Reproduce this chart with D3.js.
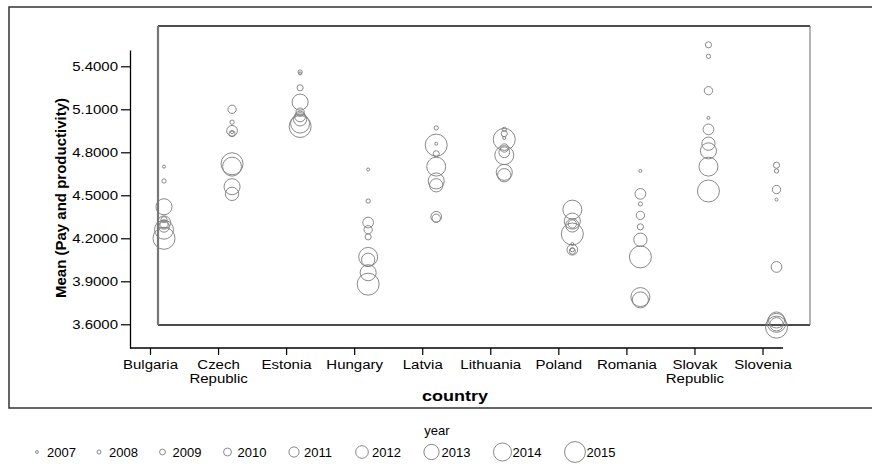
<!DOCTYPE html>
<html><head><meta charset="utf-8">
<script src="https://cdn.jsdelivr.net/npm/d3@7"></script>
<style>
body{margin:0;background:#fff}
text{font-family:"Liberation Sans",Arial,sans-serif;fill:#000}
</style>
</head><body>
<svg id="c" width="872" height="464"></svg>
<script>
// ---- data ----
const countries = ["Bulgaria","Czech Republic","Estonia","Hungary","Latvia","Lithuania","Poland","Romania","Slovak Republic","Slovenia"];
const countryLabels = [["Bulgaria"],["Czech","Republic"],["Estonia"],["Hungary"],["Latvia"],["Lithuania"],["Poland"],["Romania"],["Slovak","Republic"],["Slovenia"]];
const years = [2007,2008,2009,2010,2011,2012,2013,2014,2015];
// mean (pay and productivity) per year 2007..2015
const bulgaria  = [4.70,4.60,4.33,4.30,4.28,4.31,4.42,4.26,4.20];
const czech     = [4.94,5.01,4.93,5.10,4.95,4.51,4.56,4.70,4.72];
const estonia   = [5.35,5.36,5.25,5.08,5.05,5.03,5.15,5.00,4.98];
const hungary   = [4.68,4.46,4.21,4.26,4.31,4.05,3.96,4.07,3.88];
const latvia    = [4.86,4.97,4.79,4.34,4.35,4.57,4.60,4.70,4.85];
const lithuania = [4.90,4.96,4.93,4.83,4.80,4.64,4.66,4.78,4.89];
const poland    = [4.16,4.12,4.11,4.30,4.12,4.29,4.32,4.40,4.23];
const romania   = [4.67,4.44,4.28,4.36,4.51,4.19,3.77,3.79,4.07];
const slovak    = [5.04,5.47,5.55,5.23,4.96,4.86,4.81,4.70,4.53];
const slovenia  = [4.47,4.67,4.71,4.54,4.00,3.60,3.63,3.61,3.58];
const yTicks = [3.6,3.9,4.2,4.5,4.8,5.1,5.4];
const yTitle = "Mean (Pay and productivity)";
const xTitle = "country";
const legendTitle = "year";

const seriesByCountry = [bulgaria,czech,estonia,hungary,latvia,lithuania,poland,romania,slovak,slovenia];
const points = [];
countries.forEach((c,i)=>years.forEach((yr,j)=>points.push({country:c,year:yr,value:seriesByCountry[i][j]})));

// ---- layout ----
const svg = d3.select("#c");
svg.append("rect").attr("width",872).attr("height",464).attr("fill","#fff");

const y = d3.scaleLinear().domain([3.4346,5.5137]).range([348,50]);
const x = d3.scalePoint().domain(countries).range([150,762.5]);
const bubbleShift = 14;
const r = d3.scalePow().exponent(1.3).domain([0,8]).range([1.5,11]);
const axisX = 130;
const strokeGray = "#7c7c7c";

// outer frame (right side runs off the image)
svg.append("rect").attr("x",9).attr("y",7).attr("width",900).attr("height",401)
  .attr("fill","none").attr("stroke","#333").attr("stroke-width",1.5);

// inner data frame
const box = {l:158,t:26,r:810,b:325};
svg.append("line").attr("x1",box.l).attr("x2",box.r).attr("y1",box.t).attr("y2",box.t).attr("stroke","#111").attr("stroke-width",1.4);
svg.append("line").attr("x1",box.l).attr("x2",box.r).attr("y1",box.b).attr("y2",box.b).attr("stroke","#111").attr("stroke-width",1.4);
svg.append("line").attr("x1",box.r).attr("x2",box.r).attr("y1",box.t).attr("y2",box.b).attr("stroke","#666").attr("stroke-width",1);
svg.append("line").attr("x1",box.l).attr("x2",box.l).attr("y1",box.t).attr("y2",box.b).attr("stroke","#777").attr("stroke-width",2.2);

// y axis
const stretch = 1.2;
const gy = svg.append("g").attr("transform",`translate(${axisX},0)`)
  .call(d3.axisLeft(y).tickValues(yTicks).tickFormat(d3.format(".4f")).tickSize(9).tickSizeOuter(0).tickPadding(3));
gy.select(".domain").attr("stroke","#000").attr("stroke-width",1.3);
gy.selectAll(".tick line").attr("stroke","#000").attr("stroke-width",1.2);
gy.selectAll(".tick text").attr("x",-12/stretch).attr("dy","0.34em")
  .attr("transform",`scale(${stretch},1)`).style("font-size","12.5px").attr("fill","#000");

// x axis
const xStretch = 1.25;
const gx = svg.append("g").attr("transform","translate(0,348)")
  .call(d3.axisBottom(x).tickSize(7).tickSizeOuter(0).tickFormat(""));
gx.select(".domain").remove();
gx.append("line").attr("x1",axisX).attr("x2",x.range()[1]+20.5).attr("y1",0).attr("y2",0)
  .attr("stroke","#000").attr("stroke-width",1.3);
gx.selectAll(".tick line").attr("stroke","#000").attr("stroke-width",1.2);
gx.selectAll(".tick").each(function(d,i){
  const g = d3.select(this);
  countryLabels[i].forEach((s,k)=>{
    g.append("text").attr("text-anchor","middle")
      .attr("transform",`translate(0,${20.8 + k*13.9}) scale(${xStretch},1)`)
      .style("font-size","12px").text(s);
  });
});

// titles
svg.append("text").attr("transform","translate(66,198) rotate(-90)").attr("text-anchor","middle")
  .style("font-size","15px").style("font-weight","bold").text(yTitle);
svg.append("text").attr("transform","translate(455,401) scale(1.2,1)").attr("text-anchor","middle")
  .style("font-size","15px").style("font-weight","bold").text(xTitle);

// bubbles
svg.append("g").selectAll("circle").data(points).join("circle")
  .attr("cx",d=>x(d.country)+bubbleShift).attr("cy",d=>y(d.value))
  .attr("r",d=>r(d.year-years[0]))
  .attr("fill","none").attr("stroke",strokeGray).attr("stroke-width",0.9);

// legend
svg.append("text").attr("x",437).attr("y",435).attr("text-anchor","middle").style("font-size","13px").text(legendTitle);
let cx = 37;
const lg = svg.append("g");
years.forEach((yr,i)=>{
  if(i>0) cx += 60.5 + 1.5*i;
  const rr = r(yr-years[0]) * 0.95;
  lg.append("circle").attr("cx",cx).attr("cy",452).attr("r",rr)
    .attr("fill","none").attr("stroke",strokeGray).attr("stroke-width",0.9);
  lg.append("text").attr("x",cx+Math.max(10,rr+1)).attr("y",456.5).style("font-size","13px").text(yr);
});
</script>
</body></html>
